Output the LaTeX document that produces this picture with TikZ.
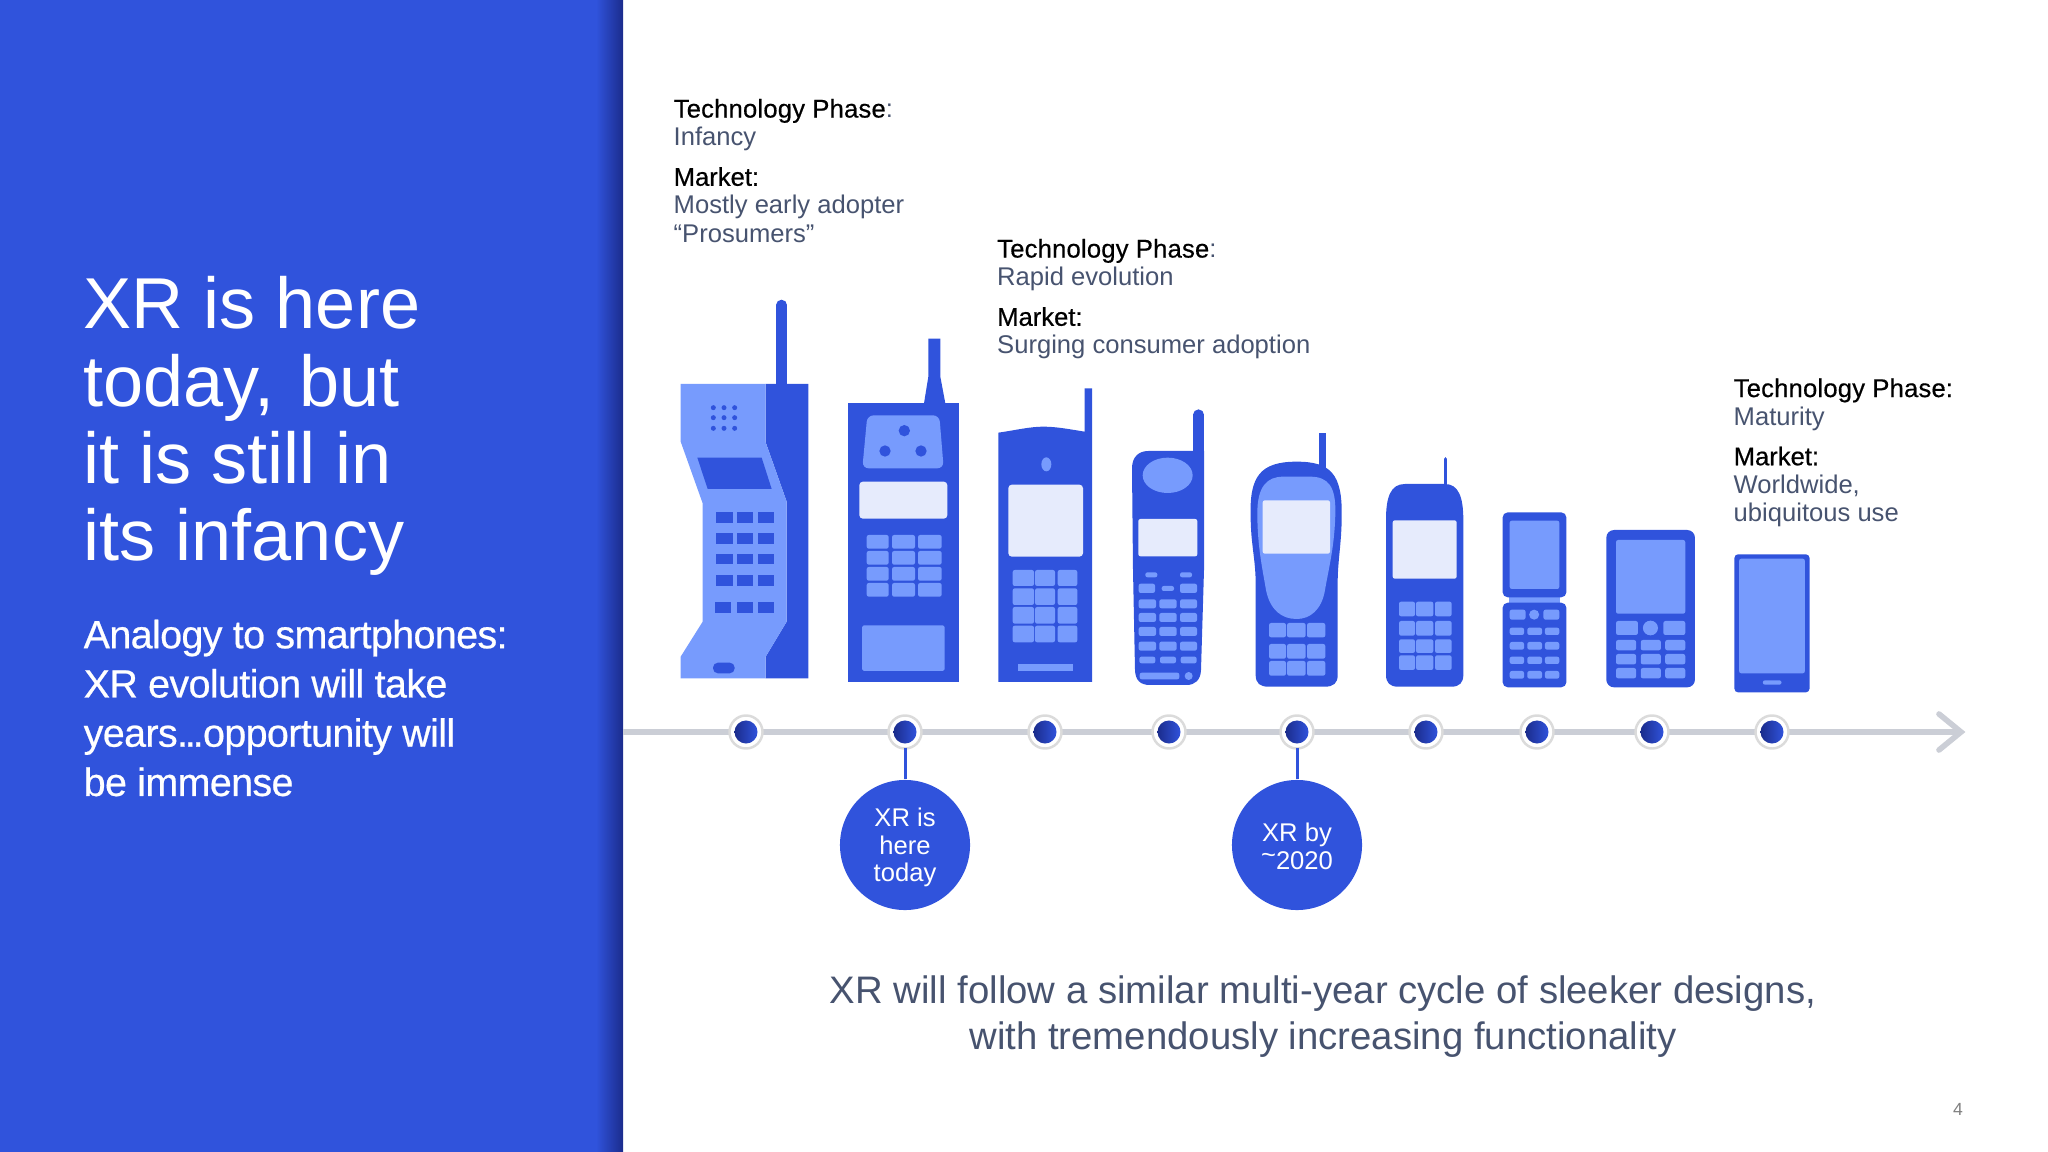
\documentclass[tikz,border=0pt]{standalone}
\usepackage{fontspec}
\setmainfont{Liberation Sans}
\newfontfamily\bfont[FakeBold=0.5]{Liberation Sans}
\newfontfamily\tfont[FakeBold=0.5,LetterSpace=0.8]{Liberation Sans}
\newfontfamily\sfont[FakeBold=0.6,LetterSpace=-1.5]{Liberation Sans}
\definecolor{pblue}{HTML}{3053DC}
\definecolor{plight}{HTML}{779BFD}
\definecolor{ppale}{HTML}{E6EBFC}
\definecolor{pnavy}{HTML}{1B2C8C}
\definecolor{pgrey}{HTML}{CBCED6}
\definecolor{ptext}{HTML}{47536F}
\newcommand{\keygrid}[3]{\foreach \xa/\xb in {#2}{\foreach \ya/\yb in {#3}{\fill[#1] (\xa,\ya) rectangle (\xb,\yb);}}}
\newcommand{\phaseblock}[5]{\node[blocktext] (#1) at (#2) {{\tfont\color{black}Technology Phase}#3\\#4\\[3.4pt]{\bfont\color{black}Market:}\\#5};}
\tikzset{
  blocktext/.style={anchor=north west,inner sep=0pt,align=left,text=ptext,font=\fontsize{7.28pt}{8pt}\selectfont},
  dark/.style={fill=pblue},
  lite/.style={fill=plight},
  pale/.style={fill=ppale},
  rk/.style={rounded corners=0.6pt},
  rs/.style={rounded corners=1.0pt},
  tline/.style={draw=pgrey,line width=1.6pt},
  stem/.style={draw=pblue,line width=0.85pt},
  ringdot/.style={circle,minimum size=0.33cm,inner sep=0pt,fill=white,draw=gray!28,line width=0.7pt},
  coredot/.style={circle,minimum size=0.23cm,inner sep=0pt,left color=pnavy,right color=pblue},
  bubble/.style={circle,minimum size=1.3cm,inner sep=0pt,fill=pblue},
  bubbletext/.style={inner sep=0pt,text=white,align=center,font=\fontsize{7.28pt}{7.8pt}\selectfont},
}
\begin{document}
\begin{tikzpicture}[x=0.01cm,y=-0.01cm]
\useasboundingbox (0,0) rectangle (2048,1152);
% left panel
\fill[pblue] (0,0) rectangle (623,1152);
\shade[left color=pblue,right color=pnavy] (596,0) rectangle (623,1152);
\node[anchor=north west,inner sep=0pt,align=left,text=white,font=\fontsize{20.5pt}{21.95pt}\selectfont] (title) at (83,276) {XR is here\\today,\kern0.07em\ but\\it is still in\\its infancy};
\node[anchor=north west,inner sep=0pt,align=left,text=white,font=\sfont\fontsize{11.2pt}{14pt}\selectfont] (sub) at (83,619) {Analogy to smartphones:\\XR evolution will take\\years.\kern-0.08em.\kern-0.08em.opportunity will\\be immense};
% text blocks
\phaseblock{pa}{673,98.3}{\textcolor{ptext}{:}}{Infancy}{Mostly early adopter\\“Prosumers”}
\phaseblock{pb}{996.5,238.3}{\textcolor{ptext}{:}}{Rapid evolution}{Surging consumer adoption}
\phaseblock{pc}{1733,377.8}{{\bfont\color{black}:}}{Maturity}{Worldwide,\\ubiquitous use}
% phones 1,2
\begin{scope}[shift={(660,280)},scale=0.33333]
 \draw[pblue,line width=3pt,line cap=round] (365,75) -- (365,330);
 \fill[dark] (317,312) -- (445,312) -- (445,1195) -- (317,1195) -- (317,1130) -- (380,1025) -- (380,665) -- (317,487) -- cycle;
 \fill[lite] (62,312) -- (317,312) -- (317,487) -- (380,665) -- (380,1025) -- (317,1130) -- (317,1195) -- (62,1195) -- (62,1130) -- (128,1025) -- (128,670) -- (62,485) -- cycle;
 \foreach \x in {160,192,224}{\foreach \y in {383,413,445}{\fill[dark] (\x,\y) circle[radius=7.5];}}
 \fill[dark] (112,533) -- (305,533) -- (335,627) -- (143,627) -- cycle;
 \keygrid{dark}{168/218,230/279,294/342}{695/728,759/792,822/853,885/917}
 \keygrid{dark}{165/213,230/279,294/342}{967/1000}
 \fill[dark,rounded corners=1.4pt] (159,1148) rectangle (224,1180);
 % phone 2
 \fill[dark] (805,176) -- (841,176) -- (841,290) -- (856,370) -- (792,370) -- (805,290) -- cycle;
 \fill[dark] (564,370) rectangle (896,1205);
 \fill[lite,rounded corners=1.8pt] (622,406) -- (838,406) -- (851,565) -- (607,565) -- cycle;
 \foreach \x/\y in {733/452,675/513,783/513}{\fill[dark] (\x,\y) circle[radius=17];}
 \fill[pale,rs] (598,605) rectangle (862,716);
 \keygrid{lite,rk}{620/686,696/765,774/845}{765/806,813/854,861/902,909/950}
 \fill[lite,rounded corners=0.5pt] (606,1036) rectangle (854,1173);
\end{scope}
% phones 3-6
\begin{scope}[shift={(980,370)},scale=0.33333]
 % phone 3
 \fill[dark] (55,188) .. controls (110,180) and (150,170) .. (190,170) .. controls (230,170) and (270,178) .. (314,185) -- (314,55) -- (336,55) -- (336,936) -- (55,936) -- cycle;
 \fill[lite] (199,283) ellipse [x radius=15,y radius=21];
 \fill[pale,rs] (85,344) rectangle (309,560);
 \keygrid{lite,rk}{98/162,165/225,233/292}{600/648,655/705,711/761,767/817}
 \fill[lite] (114,882) rectangle (278,904);
 % phone 4
 \draw[pblue,line width=3pt,line cap=round] (656,134) -- (656,260);
 \fill[dark] (456,295) .. controls (456,262) and (475,243) .. (505,243) -- (640,243) -- (672,243) -- (672,600) -- (663,900) .. controls (662,930) and (645,945) .. (620,945) -- (510,945) .. controls (480,945) and (466,930) .. (465,900) -- (459,600) -- cycle;
 \fill[lite] (563,316) ellipse [x radius=75,y radius=53];
 \fill[pale,rk] (475,447) rectangle (652,559);
 \keygrid{lite,rk}{496/532,600/636}{607/622}
 \keygrid{lite,rk}{545/582}{648/663}
 \keygrid{lite,rk}{476/525,600/651}{641/669}
 \keygrid{lite,rk}{476/528,538/590,600/651}{688/715,729/756,771/798,815/842}
 \keygrid{lite,rk}{478/526,540/588,602/650}{860/880}
 \fill[lite,rk] (479,908) rectangle (598,928);
 \fill[lite] (626,918) circle[radius=12];
 % phone 5
 \fill[dark] (1016,190) rectangle (1038,300);
 \fill[dark] (812,440) .. controls (808,320) and (840,275) .. (950,275) .. controls (1050,275) and (1088,310) .. (1085,440) .. controls (1085,520) and (1073,570) .. (1073,640) -- (1073,915) .. controls (1073,940) and (1060,950) .. (1035,950) -- (865,950) .. controls (840,950) and (827,940) .. (827,915) -- (827,640) .. controls (827,570) and (812,520) .. (812,440) -- cycle;
 \fill[lite] (832,430) .. controls (832,350) and (860,320) .. (910,320) -- (990,320) .. controls (1045,320) and (1068,350) .. (1066,430) .. controls (1064,530) and (1045,600) .. (1035,660) .. controls (1025,720) and (990,747) .. (950,747) .. controls (905,747) and (870,720) .. (858,660) .. controls (848,600) and (832,530) .. (832,430) -- cycle;
 \fill[pale,rk] (848,391) rectangle (1050,551);
 \keygrid{lite,rk}{867/918,921/977,981/1036}{759/802,822/866,873/917}
 % phone 6
 \draw[pblue,line width=1.05pt,line cap=round] (1396.5,267) -- (1396.5,350);
 \fill[dark] (1218,450) .. controls (1218,380) and (1232,342) .. (1275,342) -- (1395,342) .. controls (1435,342) and (1450,380) .. (1450,450) -- (1450,915) .. controls (1450,938) and (1438,950) .. (1415,950) -- (1253,950) .. controls (1230,950) and (1218,938) .. (1218,915) -- cycle;
 \fill[pale,rk] (1238,451) rectangle (1430,626);
 \keygrid{lite,rk}{1257/1305,1308/1360,1365/1415}{695/739,753/797,808/849,856/900}
\end{scope}
% phones 7-9
\begin{scope}[shift={(1439,490)},xscale=0.359,yscale=0.33333]
 \fill[lite] (195,320) rectangle (337,340);
 \fill[dark,rounded corners=1.5pt] (177,67) rectangle (355,322);
 \fill[dark,rounded corners=1.5pt] (177,338) rectangle (355,592);
 \fill[lite,rk] (197,92) rectangle (335,297);
 \keygrid{lite,rk}{197/241,291/335}{359/389}
 \fill[lite] (265,374) ellipse [x radius=14,y radius=15];
 \keygrid{lite,rk}{197/237,246/287,295/335}{413/435,456/479,500/522,543/566}
 % phone 8
 \fill[dark,rounded corners=2.2pt] (466,120) rectangle (713,592);
 \fill[lite,rk] (493,150) rectangle (686,371);
 \keygrid{lite,rk}{493/554,625/686}{393/435}
 \fill[lite] (589,414) ellipse [x radius=21,y radius=22];
 \keygrid{lite,rk}{493/549,562/618,630/686}{450/481,492/523,534/565}
 % phone 9
 \fill[dark,rounded corners=1.0pt] (823,193) rectangle (1032,607);
 \fill[lite,rk] (836,206) rectangle (1019,550);
 \fill[lite,rounded corners=0.6pt] (902,571) rectangle (954,584);
\end{scope}
% timeline
\coordinate (tlstart) at (623,732);
\coordinate (tlend) at (1961,732);
\coordinate (cha) at (1939,714);
\coordinate (chb) at (1939,750);
\draw[tline] (tlstart) -- (tlend);
\draw[tline,line cap=round,line join=miter] (cha) -- (tlend) -- (chb);
% dots
\foreach \n/\x in {d1/746,d2/905,d3/1045,d4/1169,d5/1297,d6/1426,d7/1537,d8/1652,d9/1772}{
  \node[ringdot] (\n) at (\x,732) {};
  \node[coredot] (\n c) at (\n) {};
}
% bubbles
\node[bubble] (c1) at (905,845) {};
\node[bubble] (c2) at (1297,845) {};
\node[bubbletext] (c1t) at ([yshift=-0.75pt]c1) {XR is\\here\\today};
\node[bubbletext] (c2t) at ([yshift=-0.4pt]c2) {XR by\\\raisebox{0.22em}{\textasciitilde}2020};
\draw[stem] ([yshift=0.5pt]d2.south) -- (c1);
\draw[stem] ([yshift=0.5pt]d5.south) -- (c2);
% caption
\node[anchor=north,inner sep=0pt,align=center,text=ptext,font=\fontsize{10.9pt}{13.1pt}\selectfont] (cap) at (1323,975) {XR will follow a similar multi-year cycle of sleeker designs,\\with tremendously increasing functionality};
\node[anchor=center,inner sep=0pt,text=gray,font=\fontsize{5pt}{5.5pt}\selectfont] (pg) at (1958,1109) {4};
\end{tikzpicture}
\end{document}
